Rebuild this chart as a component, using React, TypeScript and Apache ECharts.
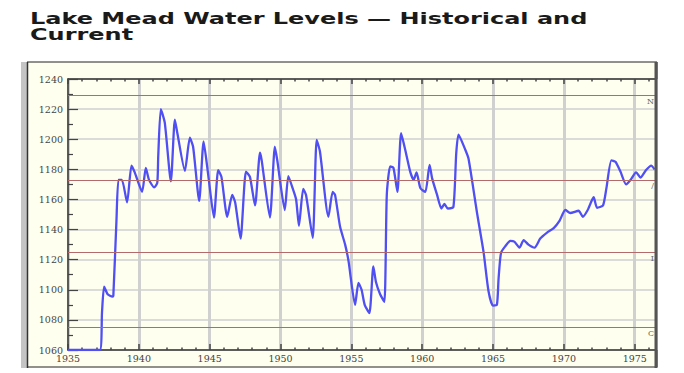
import React, { useEffect, useRef } from "react";
import * as echarts from "echarts";

const titleLines = ["Lake Mead Water Levels — Historical and", "Current"];

const years = [
  1935.0, 1937.25, 1937.4, 1937.55, 1937.8, 1938.14, 1938.2, 1938.42, 1938.56, 1938.8,
  1939.17, 1939.48, 1939.71, 1940.23, 1940.49, 1940.72, 1941.08, 1941.3, 1941.37, 1941.55,
  1941.83, 1942.26, 1942.54, 1942.7, 1943.25, 1943.6, 1943.83, 1944.26, 1944.57, 1944.9,
  1945.3, 1945.6, 1945.83, 1946.24, 1946.59, 1946.8, 1947.18, 1947.56, 1947.84, 1948.2,
  1948.55, 1948.67, 1949.25, 1949.6, 1949.77, 1950.3, 1950.55, 1950.87, 1951.1, 1951.3,
  1951.6, 1951.8, 1952.27, 1952.55, 1952.78, 1953.38, 1953.68, 1953.85, 1954.2, 1954.56,
  1954.8, 1955.26, 1955.5, 1955.72, 1955.94, 1956.27, 1956.55, 1956.74, 1957.03, 1957.33,
  1957.5, 1957.74, 1957.97, 1958.25, 1958.51, 1958.8, 1959.15, 1959.4, 1959.6, 1959.87,
  1960.22, 1960.52, 1960.7, 1961.05, 1961.35, 1961.57, 1961.8, 1962.2, 1962.4, 1962.56,
  1963.04, 1963.27, 1963.87, 1964.33, 1964.68, 1964.99, 1965.27, 1965.39, 1965.56, 1965.87,
  1966.22, 1966.5, 1966.86, 1967.16, 1967.5, 1967.93, 1968.33, 1968.81, 1969.28, 1969.7,
  1970.1, 1970.45, 1971.04, 1971.33, 1971.68, 1972.1, 1972.34, 1972.76, 1973.0, 1973.35,
  1973.64, 1973.99, 1974.39, 1974.7, 1975.1, 1975.4, 1975.8, 1976.16, 1976.4,
];

const levels = [
  1060, 1060, 1085, 1102, 1097, 1095.5, 1096, 1146, 1173, 1173,
  1158, 1182.5, 1178, 1165, 1181, 1173, 1168, 1171, 1189, 1220,
  1211, 1172, 1213, 1205, 1179, 1201, 1195, 1159, 1198.5, 1176,
  1148, 1179.5, 1175, 1148.5, 1163, 1158, 1134, 1178.5, 1175, 1156,
  1191, 1186, 1148, 1195, 1186, 1153, 1175.5, 1167, 1160, 1142.5,
  1167, 1163, 1134.5, 1199.5, 1192, 1148.5, 1165, 1163, 1142, 1130,
  1119, 1090, 1104.5, 1100, 1090, 1084.5, 1115.5, 1105, 1097, 1092,
  1163, 1182, 1181, 1165, 1204, 1193, 1178.5, 1173, 1178, 1167.5,
  1165, 1183, 1174, 1163, 1154, 1157, 1154, 1155, 1190.5, 1203,
  1193, 1187, 1151, 1125, 1099, 1089.5, 1090, 1107.5, 1124.5, 1129,
  1132.5, 1132, 1128, 1133, 1130, 1128, 1134, 1138, 1141, 1146,
  1153, 1151, 1152.5, 1148.5, 1153, 1161.5, 1154.5, 1156, 1167.5, 1186,
  1185, 1178.5, 1170, 1173, 1178, 1174.5, 1179.5, 1182.5, 1180,
];

const refLevels = [1229, 1173, 1125, 1075];
const refLabels = ["N", "/", "I", "C"];

const xLabelYears = [1935, 1940, 1945, 1950, 1955, 1960, 1965, 1970, 1975];

export default function App() {
  const ref = useRef<HTMLDivElement>(null);

  useEffect(() => {
    if (!ref.current) return;
    const chart = echarts.init(ref.current, null, { renderer: "svg" });
    const data = years.map((y, i) => [y, levels[i]]);
    const labelFont = "'DejaVu Serif', serif";

    chart.setOption({
      animation: false,
      backgroundColor: "#ffffff",
      graphic: [
        {
          type: "rect",
          z: -10,
          shape: { x: 27, y: 62, width: 630, height: 305 },
          style: { fill: "#fffff0", stroke: "#222", lineWidth: 1 },
        },
        {
          type: "rect",
          z: -10,
          shape: { x: 21, y: 62, width: 6, height: 306 },
          style: { fill: "#c4c4c4" },
        },
        {
          type: "line",
          z: -9,
          shape: { x1: 27.5, y1: 62, x2: 27.5, y2: 368 },
          style: { stroke: "#333", lineWidth: 1.5 },
        },
        {
          type: "line",
          z: 10,
          shape: { x1: 656, y1: 62, x2: 656, y2: 368 },
          style: { stroke: "#555", lineWidth: 3 },
        },
        ...titleLines.map((t, i) => ({
          type: "text",
          x: 30,
          y: 19 + i * 16,
          scaleX: 1.5,
          style: {
            text: t,
            fontFamily: "'DejaVu Sans', sans-serif",
            fontWeight: "bold",
            fontSize: 16,
            fill: "#1a1a1a",
            verticalAlign: "middle",
            align: "left",
          },
        })),
      ],
      grid: { left: 68, right: 28, top: 79, bottom: 23 },
      xAxis: [
        {
          type: "value",
          min: 1935,
          max: 1976.5,
          interval: 5,
          axisLine: { show: true, onZero: false, lineStyle: { color: "#333", width: 1.5 } },
          axisTick: { show: true, inside: true, length: 6, lineStyle: { color: "#444", width: 1.5 } },
          minorTick: { show: true, splitNumber: 5, length: 2.5, lineStyle: { color: "#444", width: 1.5 } },
          axisLabel: {
            show: true,
            margin: 3,
            fontSize: 9.5,
            fontFamily: labelFont,
            color: "#444",
            showMaxLabel: false,
            formatter: (v: number) => (xLabelYears.indexOf(v) >= 0 ? String(v) : ""),
          },
          splitLine: { show: true, lineStyle: { color: "#d0d0d0", width: 3 } },
        },
        {
          type: "value",
          position: "top",
          min: 1935,
          max: 1976.5,
          interval: 5,
          axisLine: { show: true, onZero: false, lineStyle: { color: "#333", width: 1.5 } },
          axisTick: { show: true, inside: true, length: 5, lineStyle: { color: "#444", width: 1.5 } },
          minorTick: { show: true, splitNumber: 5, length: 2.5, lineStyle: { color: "#444", width: 1.5 } },
          axisLabel: { show: false },
          splitLine: { show: false },
        },
      ],
      yAxis: [
        {
          type: "value",
          min: 1060,
          max: 1240,
          interval: 20,
          axisLine: { show: true, onZero: false, lineStyle: { color: "#333", width: 1.5 } },
          axisTick: { show: true, inside: true, length: 10, lineStyle: { color: "#444", width: 1.2 } },
          minorTick: { show: true, splitNumber: 2, length: 5, lineStyle: { color: "#444", width: 1.2 } },
          axisLabel: {
            margin: 5,
            fontSize: 9.5,
            fontFamily: labelFont,
            color: "#444",
            formatter: (v: number) => String(v),
          },
          splitLine: { show: true, lineStyle: { color: "#cfcfcf", width: 1.5 } },
        },
        {
          type: "value",
          position: "right",
          min: 1060,
          max: 1240,
          interval: 20,
          axisLine: { show: false },
          axisTick: { show: false },
          axisLabel: { show: false },
          splitLine: { show: false },
        },
      ],
      series: [
        {
          type: "line",
          xAxisIndex: 0,
          yAxisIndex: 0,
          data,
          showSymbol: false,
          smooth: 0.2,
          clip: true,
          lineStyle: { color: "#4f4ff4", width: 2.3 },
          markLine: {
            silent: true,
            symbol: "none",
            lineStyle: { color: "#b46a6a", width: 1, type: "solid" },
            data: refLevels.map((v, i) => ({
              yAxis: v,
              label: {
                show: true,
                position: "insideEndBottom",
                distance: 2,
                formatter: refLabels[i],
                fontSize: 8,
                fontFamily: labelFont,
                color: "#666",
              },
            })),
          },
        },
      ],
    });

    return () => chart.dispose();
  }, []);

  return (
    <div
      ref={ref}
      style={{ position: "fixed", left: 0, top: 0, width: 684, height: 373 }}
    />
  );
}
